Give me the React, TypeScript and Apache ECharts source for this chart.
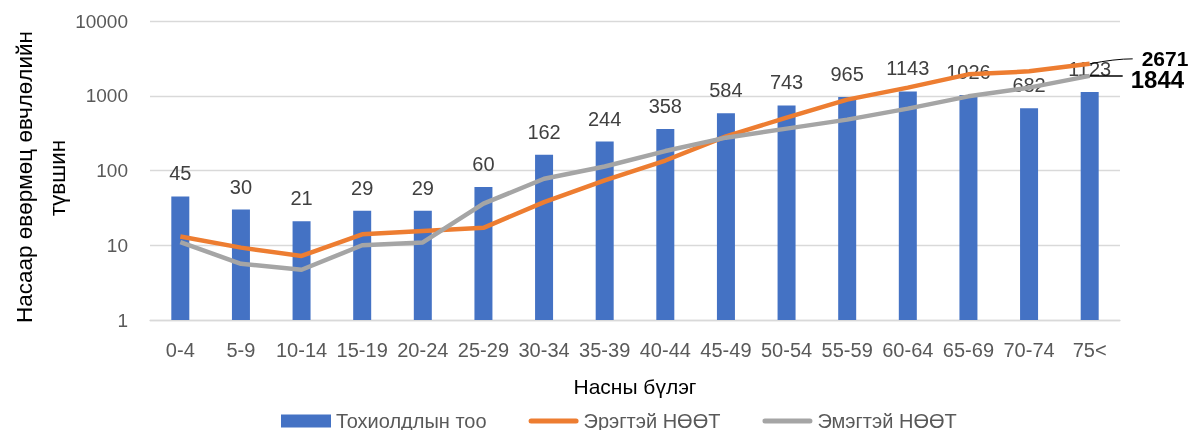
import React, { useEffect, useRef } from "react";
import * as echarts from "echarts";

const categories = ["0-4", "5-9", "10-14", "15-19", "20-24", "25-29", "30-34", "35-39", "40-44", "45-49", "50-54", "55-59", "60-64", "65-69", "70-74", "75<"];
const cases = [45, 30, 21, 29, 29, 60, 162, 244, 358, 584, 743, 965, 1143, 1026, 682, 1123];
const maleRate = [13.1, 9.3, 7.2, 14, 15.5, 17.1, 37.8, 73.7, 136, 286, 509, 887, 1283, 1933, 2122, 2671];
const femaleRate = [11, 5.65, 4.7, 10, 10.9, 36, 77.6, 113, 182, 275, 363, 479, 672, 982, 1283, 1844];
const seriesNames = ["Тохиолдлын тоо", "Эрэгтэй НӨӨТ", "Эмэгтэй НӨӨТ"];
const yTitleLines = ["Насаар өвөрмөц өвчлөлийн", "түвшин"];
const xTitle = "Насны бүлэг";

const FONT = "Liberation Sans";
const LINE_ICON = "path://M2.5,0 L47.5,0 A2.5,2.5 0 0 1 47.5,5 L2.5,5 A2.5,2.5 0 0 1 2.5,0 Z";

export default function App() {
  const ref = useRef<HTMLDivElement>(null);
  useEffect(() => {
    if (!ref.current) return;
    const chart = echarts.init(ref.current, null, { renderer: "svg" });
    const last = categories.length - 1;
    chart.setOption({
      animation: false,
      textStyle: { fontFamily: FONT },
      grid: { left: 150, right: 73, top: 21, bottom: 110 },
      legend: {
        left: 276,
        top: 406,
        itemWidth: 50,
        itemHeight: 13,
        itemGap: 42,
        textStyle: { fontFamily: FONT, fontSize: 20, color: "#595959" },
        data: [
          { name: seriesNames[0], icon: "rect" },
          { name: seriesNames[1], icon: LINE_ICON },
          { name: seriesNames[2], icon: LINE_ICON },
        ],
      },
      xAxis: {
        type: "category",
        data: categories,
        axisLine: { lineStyle: { color: "#d9d9d9", width: 1.3 } },
        axisTick: { show: false },
        axisLabel: { interval: 0, margin: 20, fontSize: 20, color: "#595959", fontFamily: FONT },
        name: xTitle,
        nameLocation: "middle",
        nameGap: 56,
        nameTextStyle: { fontSize: 21, color: "#000", fontFamily: FONT },
      },
      yAxis: {
        type: "log",
        logBase: 10,
        min: 1,
        max: 10000,
        axisLine: { show: false },
        axisTick: { show: false },
        axisLabel: {
          margin: 22,
          fontSize: 19,
          color: "#595959",
          fontFamily: FONT,
          formatter: (v: number) => String(Math.round(v)),
        },
        splitLine: { lineStyle: { color: "#d9d9d9", width: 1.3 } },
      },
      series: [
        {
          name: seriesNames[0],
          type: "bar",
          data: cases,
          barWidth: 18,
          itemStyle: { color: "#4472C4" },
          label: { show: true, position: "top", distance: 13, fontSize: 20, color: "#404040", fontFamily: FONT },
          z: 2,
        },
        {
          name: seriesNames[1],
          type: "line",
          data: maleRate,
          symbol: "none",
          lineStyle: { color: "#ED7D31", width: 4.5 },
          itemStyle: { color: "#ED7D31" },
          endLabel: {
            show: true,
            formatter: (p: any) => String(p.value),
            offset: [44, -5],
            fontSize: 21,
            fontWeight: "bold",
            color: "#000",
            fontFamily: FONT,
          },
          z: 3,
        },
        {
          name: seriesNames[2],
          type: "line",
          data: femaleRate,
          symbol: "none",
          lineStyle: { color: "#A5A5A5", width: 4.5 },
          itemStyle: { color: "#A5A5A5" },
          endLabel: {
            show: true,
            formatter: (p: any) => String(p.value),
            offset: [33, 4],
            fontSize: 24,
            fontWeight: "bold",
            color: "#000",
            fontFamily: FONT,
          },
          z: 3,
        },
      ],
    });
    const pm = chart.convertToPixel({ seriesIndex: 1 }, [last, maleRate[last]]) as number[];
    const pf = chart.convertToPixel({ seriesIndex: 2 }, [last, femaleRate[last]]) as number[];
    chart.setOption({
      graphic: [
        {
          type: "bezierCurve",
          shape: { x1: pm[0], y1: pm[1], cpx1: pm[0] + 25, cpy1: pm[1] - 5, x2: pm[0] + 43, y2: pm[1] - 5 },
          style: { stroke: "#000", lineWidth: 1, fill: "none" },
          z: 10,
        },
        {
          type: "line",
          shape: { x1: pf[0], y1: pf[1], x2: pf[0] + 33, y2: pf[1] },
          style: { stroke: "#000", lineWidth: 1.5 },
          z: 10,
        },
        {
          type: "text",
          x: 24,
          y: 177,
          rotation: Math.PI / 2,
          style: { text: yTitleLines[0], fontSize: 22.5, fill: "#000", align: "center", verticalAlign: "middle", fontFamily: FONT },
        },
        {
          type: "text",
          x: 57,
          y: 178,
          rotation: Math.PI / 2,
          style: { text: yTitleLines[1], fontSize: 22.5, fill: "#000", align: "center", verticalAlign: "middle", fontFamily: FONT },
        },
      ],
    });
    return () => chart.dispose();
  }, []);
  return <div ref={ref} style={{ position: "fixed", left: 0, top: 0, width: 1193, height: 430 }} />;
}
